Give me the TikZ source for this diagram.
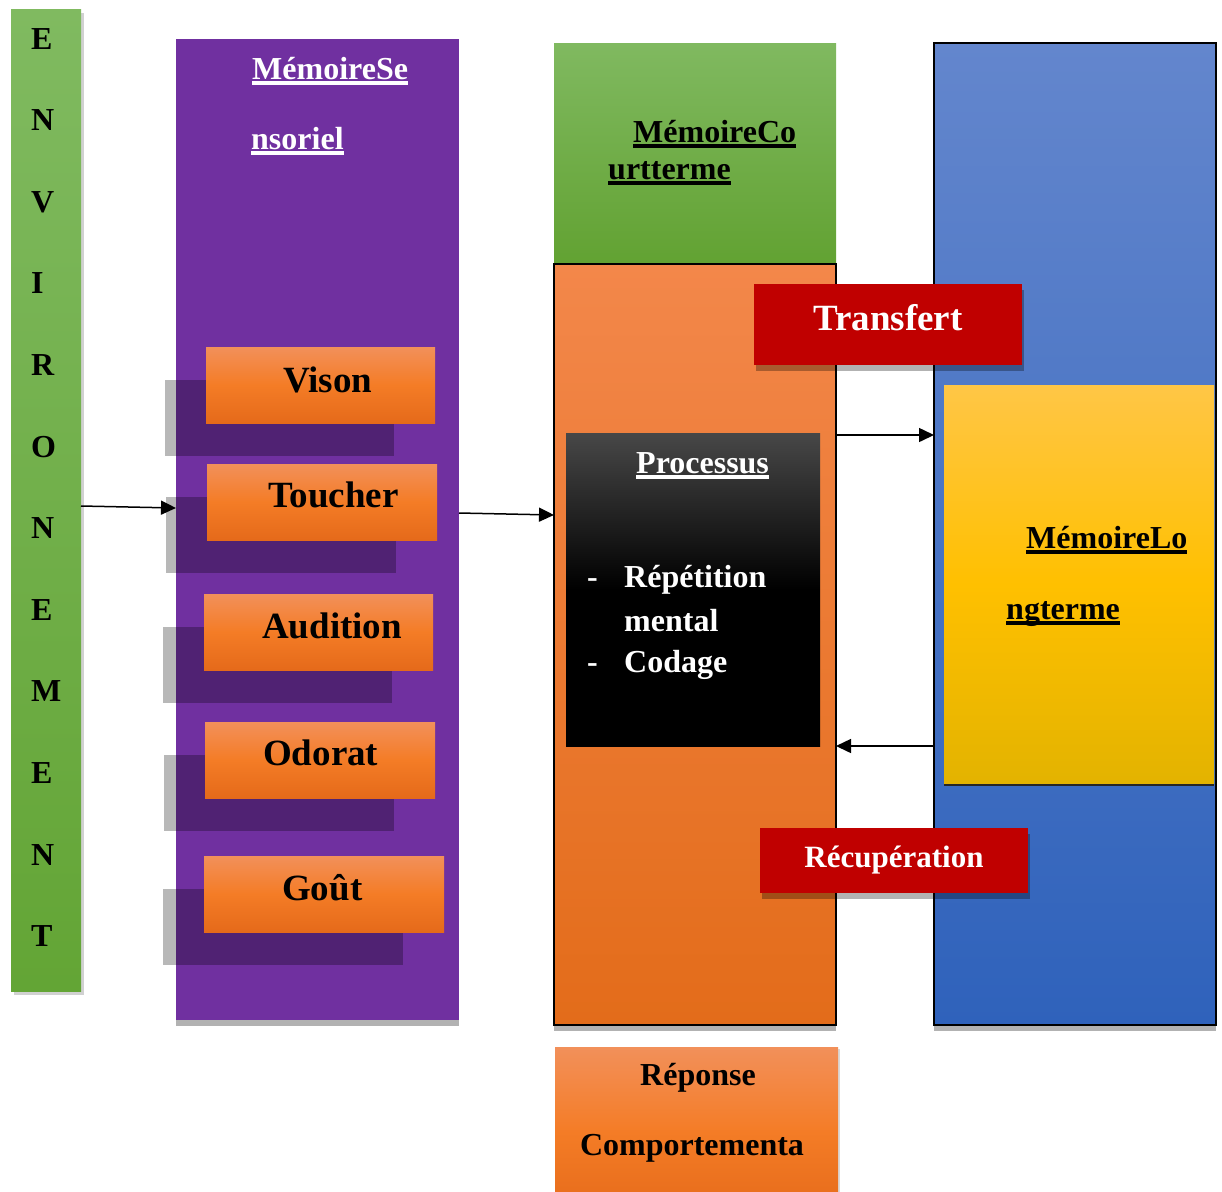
\documentclass[tikz,border=0pt]{standalone}
\usepackage{fontspec}
\setmainfont{Liberation Serif}
\usepackage{tikz}
\usetikzlibrary{arrows.meta,shadows}
\definecolor{envhaut}{RGB}{128,186,96}
\definecolor{envbas}{RGB}{99,165,53}
\definecolor{violetsens}{RGB}{112,48,160}
\definecolor{orhaut}{RGB}{242,144,90}
\definecolor{ormilieu}{RGB}{244,124,38}
\definecolor{orbas}{RGB}{229,106,26}
\definecolor{courthaut}{RGB}{243,135,74}
\definecolor{courtbas}{RGB}{227,108,26}
\definecolor{verthaut}{RGB}{128,185,96}
\definecolor{vertbas}{RGB}{98,162,50}
\definecolor{bleuhaut}{RGB}{99,134,205}
\definecolor{bleubas}{RGB}{47,98,187}
\definecolor{jaunehaut}{RGB}{255,198,70}
\definecolor{jaunemilieu}{RGB}{255,192,0}
\definecolor{jaunebas}{RGB}{227,179,0}
\definecolor{rouge}{RGB}{192,0,0}
\newsavebox\soulbox
\newcommand\souligne[1]{\sbox\soulbox{#1}\rlap{\rule[-5.5pt]{\wd\soulbox}{3.2pt}}\usebox\soulbox}

\tikzset{
  colonne/.style={inner sep=0pt, outer sep=0pt, anchor=north west},
  ombrecol/.style={general shadow={fill=black!30, shadow yshift=-6pt}},
  envbar/.style={colonne, minimum width=70pt, minimum height=982pt,
    top color=envhaut, bottom color=envbas,
    general shadow={fill=black, opacity=.18, shadow xshift=3pt, shadow yshift=-4pt}},
  lettre/.style={inner sep=0pt, anchor=base west, font=\fontsize{32}{38}\selectfont\bfseries},
  sensebox/.style={colonne, minimum height=76pt,
    top color=orhaut, bottom color=orbas, middle color=ormilieu,
    general shadow={fill=black, opacity=.28, shadow xshift=-41pt, shadow yshift=-33pt}},
  sensetxt/.style={inner sep=0pt, anchor=base west, font=\fontsize{37}{44}\selectfont\bfseries},
  titre/.style={inner sep=0pt, anchor=base west, font=\fontsize{32}{38}\selectfont\bfseries},
  redbox/.style={colonne, fill=rouge, minimum width=268pt,
    general shadow={fill=black, opacity=.3, shadow xshift=2pt, shadow yshift=-6pt}},
  redtxt/.style={inner sep=0pt, anchor=base, text=white, font=\bfseries},
  fleche/.style={line width=1.5pt, -{Triangle[length=15pt,width=14pt]}}
}

\begin{document}
\begin{tikzpicture}[x=1pt,y=-1pt]
\useasboundingbox (0,0) rectangle (1222,1191);

% environnement
\node[envbar] (env) at (11,9) {};
\foreach \l [count=\i from 0] in {E,N,V,I,R,O,N,E,M,E,N,T}
  \node[lettre] (env\i) at (31,{49+81.6*\i}) {\l};

% memoire sensorielle
\node[colonne, fill=violetsens, minimum width=283pt, minimum height=981pt, ombrecol] (sensory) at (176,39) {};
\node[titre, text=white] (sensory-t1) at (252,79) {\souligne{MémoireSe}};
\node[titre, text=white] (sensory-t2) at (251,149) {\souligne{nsoriel}};
\foreach \nm/\bx/\by/\bw/\tx/\ty/\txt in {vison/206/347/229/283/392/Vison,
    toucher/207/464/230/268/507/Toucher, audition/204/594/229/262/638/Audition,
    odorat/205/722/230/263/765/Odorat, gout/204/856/240/282/900/Goût}
{
  \node[sensebox, minimum width=\bw pt] (\nm) at (\bx,\by) {};
  \node[sensetxt] (\nm-t) at (\tx,\ty) {\txt};
}

% memoire a court terme
\node[colonne, minimum width=282pt, minimum height=221pt,
  top color=verthaut, bottom color=vertbas] (courthead) at (554,43) {};
\node[titre] (court-t1) at (633,142) {\souligne{MémoireCo}};
\node[titre] (court-t2) at (608,179) {\souligne{urtterme}};
\node[colonne, draw=black, line width=2.5pt, minimum width=282pt, minimum height=761pt,
  top color=courthaut, bottom color=courtbas, ombrecol] (court) at (554,264) {};
\node[colonne, minimum width=254pt, minimum height=313pt,
  top color=black!72, bottom color=black, middle color=black] (proc) at (566,433) {};
\node[titre, text=white] (proc-t) at (636,473) {\souligne{Processus}};
\node[titre, text=white] (proc-d1) at (587,587) {-};
\node[titre, text=white] (proc-l1) at (624,587) {Répétition};
\node[titre, text=white] (proc-l2) at (624,631) {mental};
\node[titre, text=white] (proc-d2) at (587,672) {-};
\node[titre, text=white] (proc-l3) at (624,672) {Codage};

% memoire a long terme
\node[colonne, draw=black, line width=2.5pt, minimum width=282pt, minimum height=982pt,
  top color=bleuhaut, bottom color=bleubas, ombrecol] (longue) at (934,43) {};
\node[colonne, minimum width=270pt, minimum height=398pt,
  top color=jaunehaut, bottom color=jaunebas, middle color=jaunemilieu,
  general shadow={fill=black!85, shadow yshift=-3pt}] (ltm) at (944,385) {};
\node[titre] (ltm-t1) at (1026,548) {\souligne{MémoireLo}};
\node[titre] (ltm-t2) at (1006,619) {\souligne{ngterme}};

% transfert / recuperation
\node[redbox, minimum height=81pt] (transfert) at (754,284) {};
\node[redtxt, font=\fontsize{37}{44}\selectfont\bfseries] (transfert-t) at (888,330) {Transfert};
\node[redbox, minimum height=65pt] (recup) at (760,828) {};
\node[redtxt, font=\fontsize{31}{37}\selectfont\bfseries] (recup-t) at (894,867) {Récupération};

% reponse
\node[colonne, minimum width=283pt, minimum height=170pt,
  top color=orhaut, bottom color=orbas, middle color=ormilieu,
  general shadow={fill=black, opacity=.15, shadow xshift=2pt, shadow yshift=-2pt}] (reponse) at (555,1047) {};
\node[titre, anchor=base] (reponse-t1) at (698,1085) {Réponse};
\node[titre, anchor=base] (reponse-t2) at (692,1155) {Comportementa};

% fleches
\draw[fleche] ([yshift=-6pt]env.east) -- ([yshift=21.5pt]sensory.west);
\draw[fleche] ([yshift=16.5pt]sensory.east) -- ([yshift=129.5pt]court.west);
\draw[fleche] ([yshift=-2pt]court.east |- proc.north) -- ([yshift=-2pt]longue.west |- proc.north);
\draw[fleche] (longue.west |- proc.south) -- (court.east |- proc.south);
\end{tikzpicture}
\end{document}
